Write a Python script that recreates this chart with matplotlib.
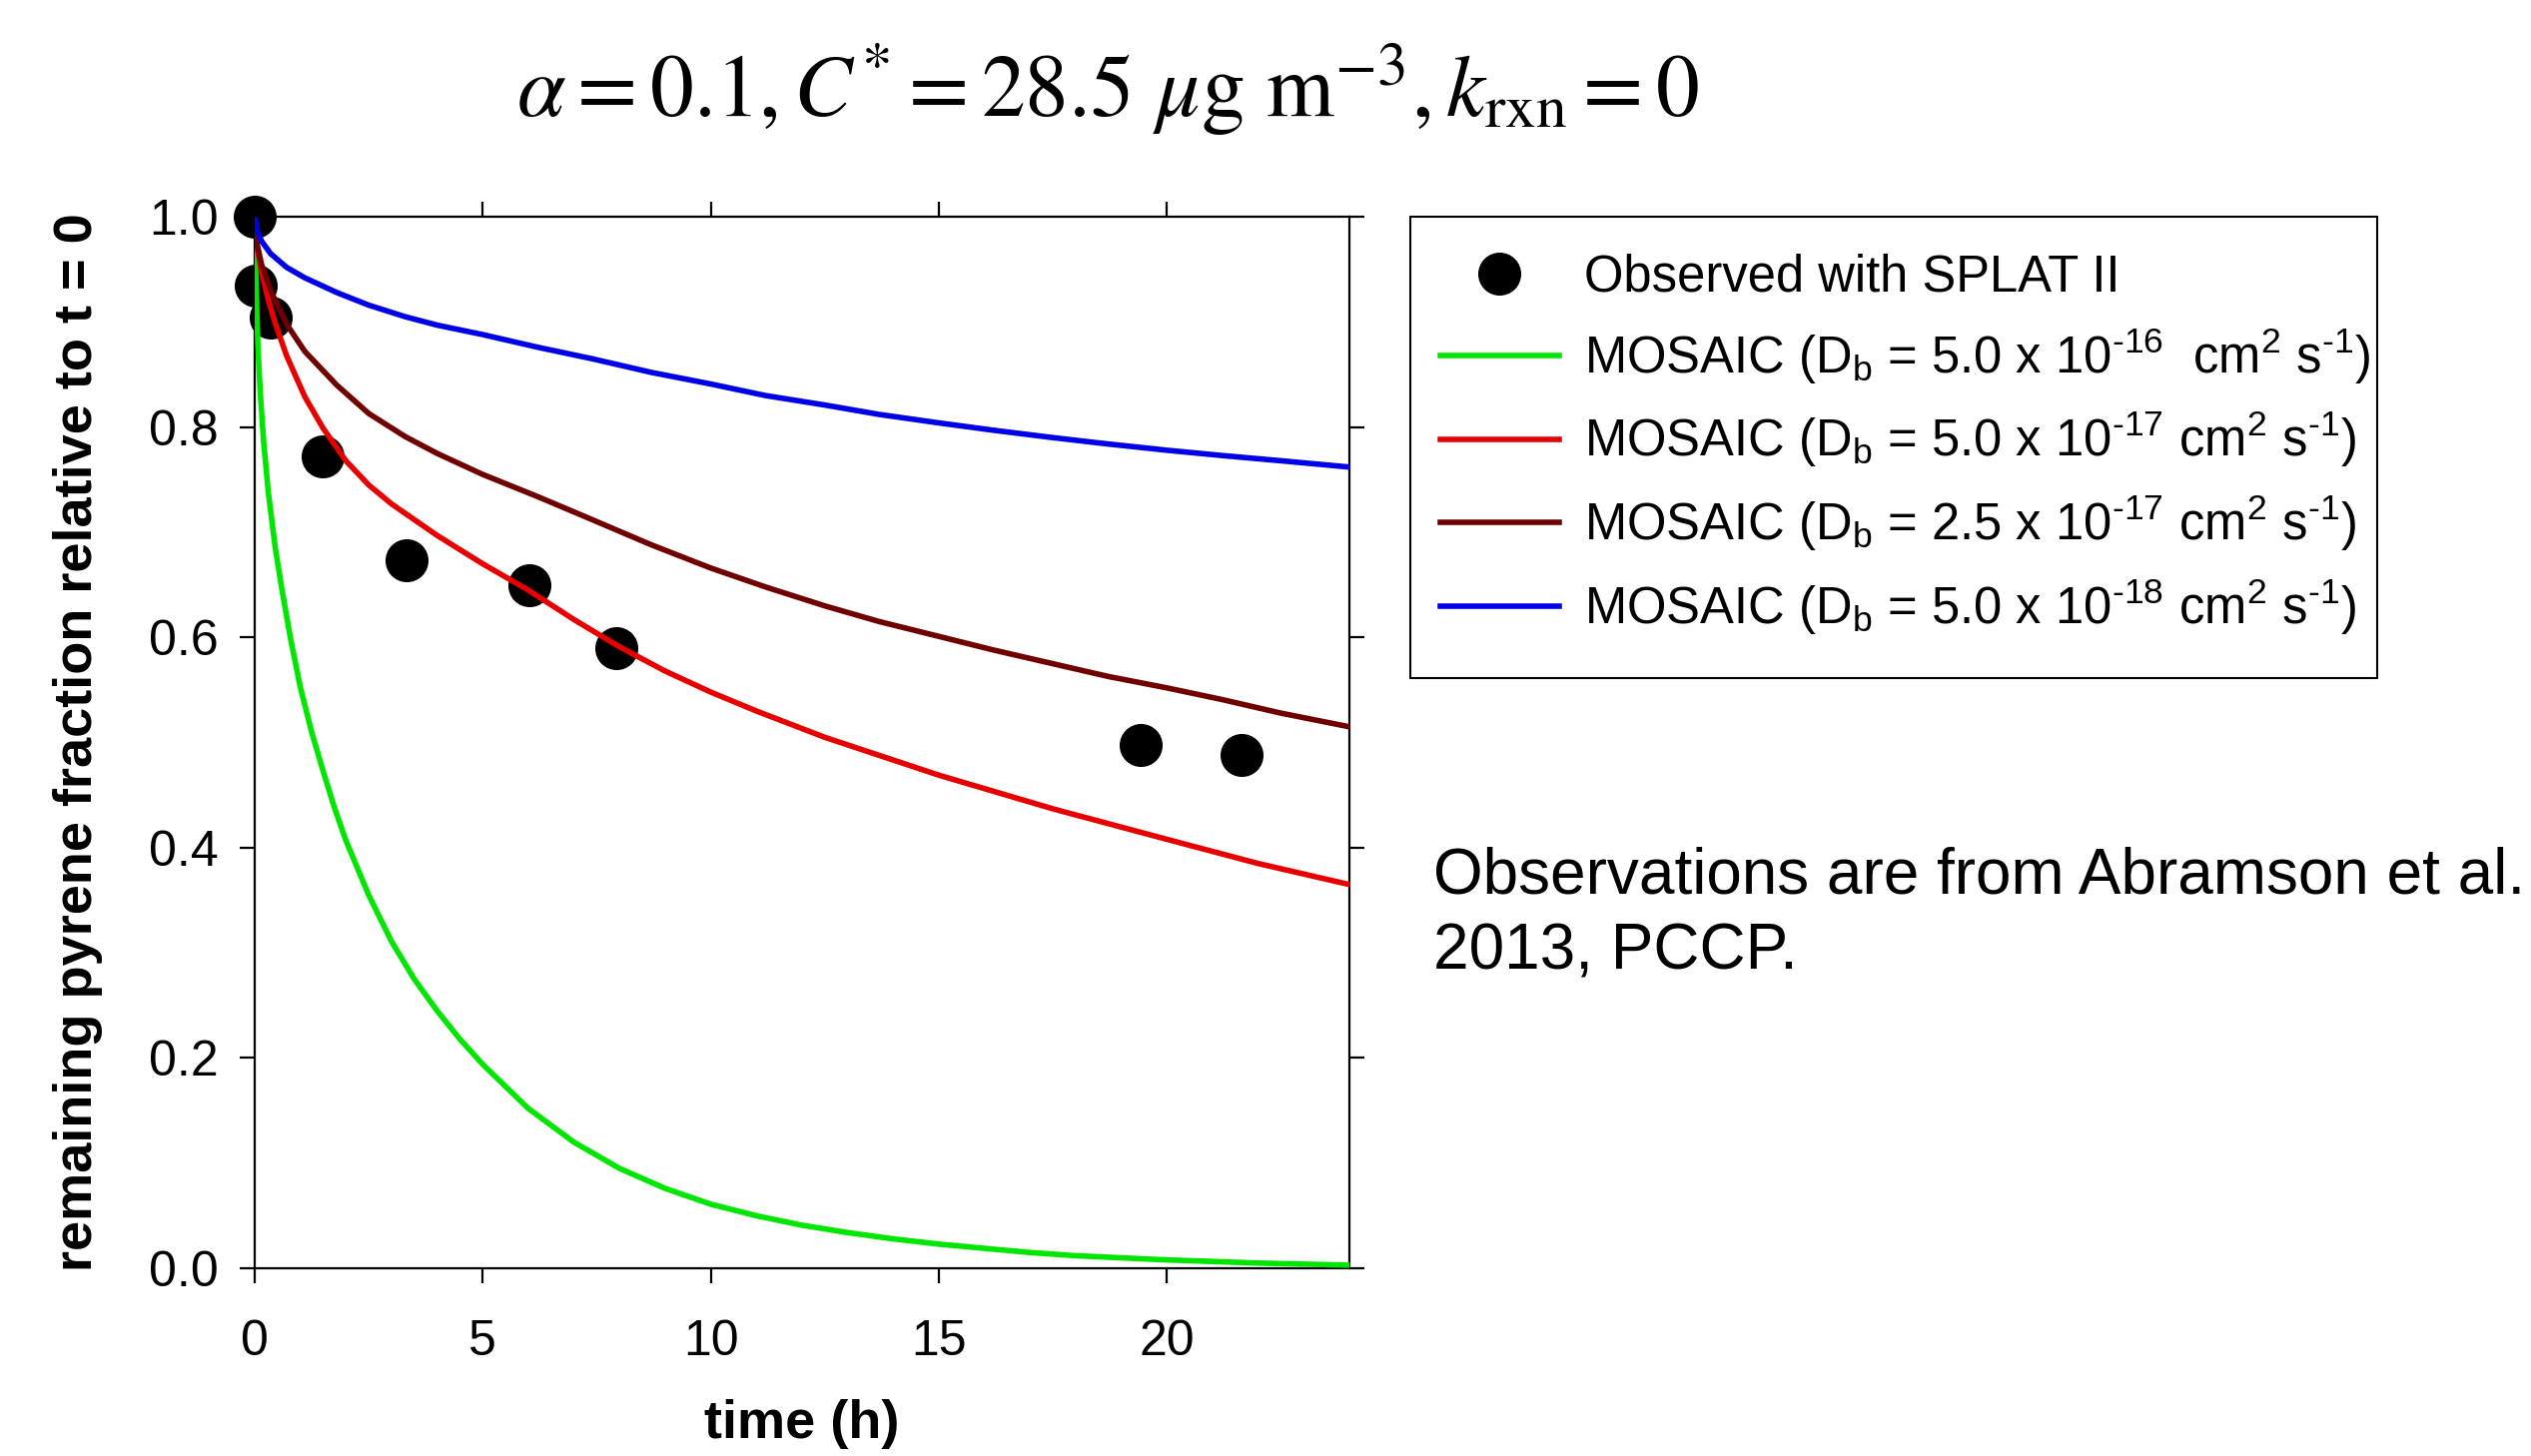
import matplotlib
matplotlib.use("Agg")
import matplotlib.pyplot as plt
from matplotlib.patches import Rectangle

plt.rcParams["font.family"] = "Liberation Sans"
plt.rcParams["mathtext.fontset"] = "custom"
plt.rcParams["mathtext.rm"] = "Liberation Sans"
plt.rcParams["mathtext.it"] = "Liberation Sans:italic"
plt.rcParams["mathtext.bf"] = "Liberation Sans:bold"

# ---- observations (SPLAT II) ----
obs_t = [0.0, 0.03, 0.35, 1.5, 3.32, 6.02, 7.92, 19.43, 21.64]
obs_frac = [1.0, 0.935, 0.904, 0.772, 0.673, 0.650, 0.590, 0.498, 0.488]

# ---- MOSAIC runs, Db = 5.0e-16 ----
green_t = [0, 0.03, 0.07, 0.12, 0.2, 0.3, 0.45, 0.6, 0.8, 1.0, 1.25, 1.5,
           1.75, 2.0, 2.5, 3.0, 3.5, 4.0, 4.5, 5.0, 6.0, 7.0, 8.0, 9.0, 10,
           11, 12, 13, 14, 15, 16, 17, 18, 19, 20, 22, 24]
green_frac = [1.0, 0.935, 0.88, 0.835, 0.785, 0.738, 0.686, 0.645, 0.596,
              0.553, 0.510, 0.473, 0.438, 0.407, 0.355, 0.311, 0.275, 0.245,
              0.218, 0.194, 0.152, 0.120, 0.095, 0.076, 0.061, 0.050, 0.041,
              0.034, 0.028, 0.023, 0.019, 0.015, 0.012, 0.010, 0.008, 0.005,
              0.003]

# ---- Db = 5.0e-17 ----
red_t = [0, 0.05, 0.15, 0.3, 0.45, 0.7, 1.1, 1.5, 2.0, 2.5, 3.0, 3.5, 4.0,
         5.0, 6.0, 7.0, 8.0, 9.0, 10, 11, 12.5, 15, 17.5, 20, 22, 24]
red_frac = [1.0, 0.972, 0.948, 0.921, 0.899, 0.868, 0.829, 0.799, 0.768,
            0.745, 0.727, 0.712, 0.697, 0.670, 0.645, 0.617, 0.591, 0.568,
            0.548, 0.530, 0.505, 0.469, 0.437, 0.408, 0.385, 0.365]

# ---- Db = 2.5e-17 ----
maroon_t = [0, 0.05, 0.15, 0.35, 0.7, 1.1, 1.8, 2.5, 3.3, 4.0, 5.0, 6.2, 7.4,
            8.7, 10, 11.2, 12.5, 13.7, 15, 16.2, 17.5, 18.7, 20, 21.2, 22.5,
            24]
maroon_frac = [1.0, 0.975, 0.955, 0.930, 0.898, 0.872, 0.840, 0.813, 0.791,
               0.775, 0.755, 0.734, 0.712, 0.688, 0.666, 0.648, 0.630, 0.615,
               0.601, 0.588, 0.575, 0.563, 0.552, 0.541, 0.528, 0.515]

# ---- Db = 5.0e-18 ----
blue_t = [0, 0.05, 0.15, 0.35, 0.7, 1.1, 1.8, 2.5, 3.3, 4.0, 5.0, 6.2, 7.4,
          8.7, 10, 11.2, 12.5, 13.7, 15, 16.2, 17.5, 18.7, 20, 21.2, 22.5, 24]
blue_frac = [1.0, 0.988, 0.977, 0.965, 0.952, 0.942, 0.928, 0.916, 0.905,
             0.897, 0.888, 0.876, 0.865, 0.852, 0.841, 0.830, 0.821, 0.812,
             0.804, 0.797, 0.790, 0.784, 0.778, 0.773, 0.768, 0.762]

labels = [
    "Observed with SPLAT II",
    "MOSAIC (D$_{\\rm b}$ = 5.0 x 10$^{\u201016}$  cm$^{2}$ s$^{\u20101}$)",
    "MOSAIC (D$_{\\rm b}$ = 5.0 x 10$^{\u201017}$ cm$^{2}$ s$^{\u20101}$)",
    "MOSAIC (D$_{\\rm b}$ = 2.5 x 10$^{\u201017}$ cm$^{2}$ s$^{\u20101}$)",
    "MOSAIC (D$_{\\rm b}$ = 5.0 x 10$^{\u201018}$ cm$^{2}$ s$^{\u20101}$)",
]

y_ticks = [0.0, 0.2, 0.4, 0.6, 0.8, 1.0]
x_ticks = [0, 5, 10, 15, 20]


fig = plt.figure(figsize=(25.34, 14.58), dpi=100)
ax = fig.add_axes([0.1006, 0.1289, 0.4325, 0.7222])

pts, = ax.plot(obs_t, obs_frac, "o", color="black", markersize=31,
               markeredgewidth=0, clip_on=False, zorder=2)
lg, = ax.plot(green_t, green_frac, color="#00e600", lw=4, zorder=3)
lr, = ax.plot(red_t, red_frac, color="#e80000", lw=4, zorder=3)
lm, = ax.plot(maroon_t, maroon_frac, color="#700000", lw=4, zorder=3)
lb, = ax.plot(blue_t, blue_frac, color="#0000e8", lw=4, zorder=3)

ax.set_xlim(0, 24)
ax.set_ylim(0, 1.0)
ax.set_xticks(x_ticks)
ax.set_yticks(y_ticks)
ax.set_yticklabels([f"{v:.1f}" for v in y_ticks])

for s in ax.spines.values():
    s.set_linewidth(1.6)

ax.tick_params(axis="both", which="major", direction="out", length=11,
               width=1.6, labelsize=36, top=True, right=True)
ax.tick_params(axis="x", pad=26)
ax.tick_params(axis="y", pad=15)

ax.set_ylabel("remaining pyrene fraction relative to t = 0",
              fontsize=39, fontweight="bold", va="center")
ax.yaxis.set_label_coords(-0.161, 0.5)
ax.set_xlabel("time (h)", fontsize=39, fontweight="bold", va="top")
ax.xaxis.set_label_coords(0.5, -0.124)

fig.text(0.4378, 0.9385,
         r"$\alpha = 0.1, C^{*} = 28.5\ \mu\mathrm{g\ m}^{-3}, k_{\mathrm{rxn}} = 0$",
         fontsize=63, ha="center", va="center", math_fontfamily="stix")

# legend contents without frame; the box is drawn separately
leg = fig.legend([pts, lg, lr, lm, lb], labels,
                 loc="upper left", bbox_to_anchor=(0.5689, 0.826),
                 bbox_transform=fig.transFigure, borderaxespad=0,
                 fontsize=36.5, numpoints=1, handlelength=2.36,
                 handletextpad=0.48, borderpad=0, labelspacing=0.46,
                 frameon=False)
fig.add_artist(Rectangle((0.5572, 0.5343), 0.3820, 0.3169,
                         transform=fig.transFigure, fill=False,
                         edgecolor="black", linewidth=1.5))

fig.text(0.5663, 0.372, "Observations are from Abramson et al.\n2013, PCCP.",
         fontsize=46, ha="left", va="center", linespacing=1.34)

fig.savefig("out.png", dpi=100)
